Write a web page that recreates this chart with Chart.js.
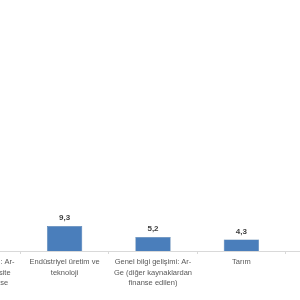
<!DOCTYPE html>
<html>
<head>
<meta charset="utf-8">
<script src="https://cdn.jsdelivr.net/npm/chart.js@4"></script>
<style>
  html, body { margin: 0; padding: 0; background: #fff; overflow: hidden; }
  #wrap { position: absolute; left: -68px; top: 0; width: 442px; height: 300px; }
</style>
</head>
<body>
<div id="wrap"><canvas id="nabs" width="442" height="300"></canvas></div>
<script>
const labels = [
  ['Genel bilgi gelişimi: Ar-', 'Ge (Genel üniversite', 'fonlarından finanse'],
  ['Endüstriyel üretim ve', 'teknoloji'],
  ['Genel bilgi gelişimi: Ar-', 'Ge (diğer kaynaklardan', 'finanse edilen)'],
  ['Tarım'],
  ['Eğitim']
]
const values = [30.1, 9.3, 5.2, 4.3, 3.0]

const valueLabels = {
  id: 'valueLabels',
  afterDatasetsDraw(chart) {
    const c = chart.ctx
    const meta = chart.getDatasetMeta(0)
    c.save()
    c.font = 'bold 8px "Liberation Sans", Arial, sans-serif'
    c.fillStyle = '#404040'
    c.textAlign = 'center'
    c.textBaseline = 'bottom'
    meta.data.forEach((bar, i) => {
      c.fillText(values[i].toFixed(1).replace('.', ','), bar.x, bar.y - 4)
    })
    c.restore()
  }
}

const ctx = document.getElementById('nabs').getContext('2d')

new Chart(ctx, {
  type: 'bar',
  data: {
    labels: labels,
    datasets: [{
      data: values,
      backgroundColor: '#4a7ebb',
      borderColor: '#41709f',
      borderWidth: 0.5,
      categoryPercentage: 0.4,
      barPercentage: 1
    }]
  },
  options: {
    responsive: false,
    animation: false,
    layout: { padding: 0 },
    scales: {
      x: {
        offset: true,
        afterFit(scale) {
          scale.height = 49
          scale.paddingLeft = 0
          scale.paddingRight = 0
        },
        grid: {
          offset: true,
          drawOnChartArea: false,
          drawTicks: true,
          tickLength: 3,
          color: '#d9d9d9'
        },
        border: { color: '#d9d9d9' },
        ticks: {
          maxRotation: 0,
          autoSkip: false,
          padding: 3,
          color: '#595959',
          font: { family: '"Liberation Sans", Arial, sans-serif', size: 7.5, lineHeight: 1.4 }
        }
      },
      y: {
        display: false,
        min: 0,
        max: 93
      }
    },
    plugins: {
      legend: { display: false },
      tooltip: { enabled: false }
    }
  },
  plugins: [valueLabels]
})
</script>
</body>
</html>
